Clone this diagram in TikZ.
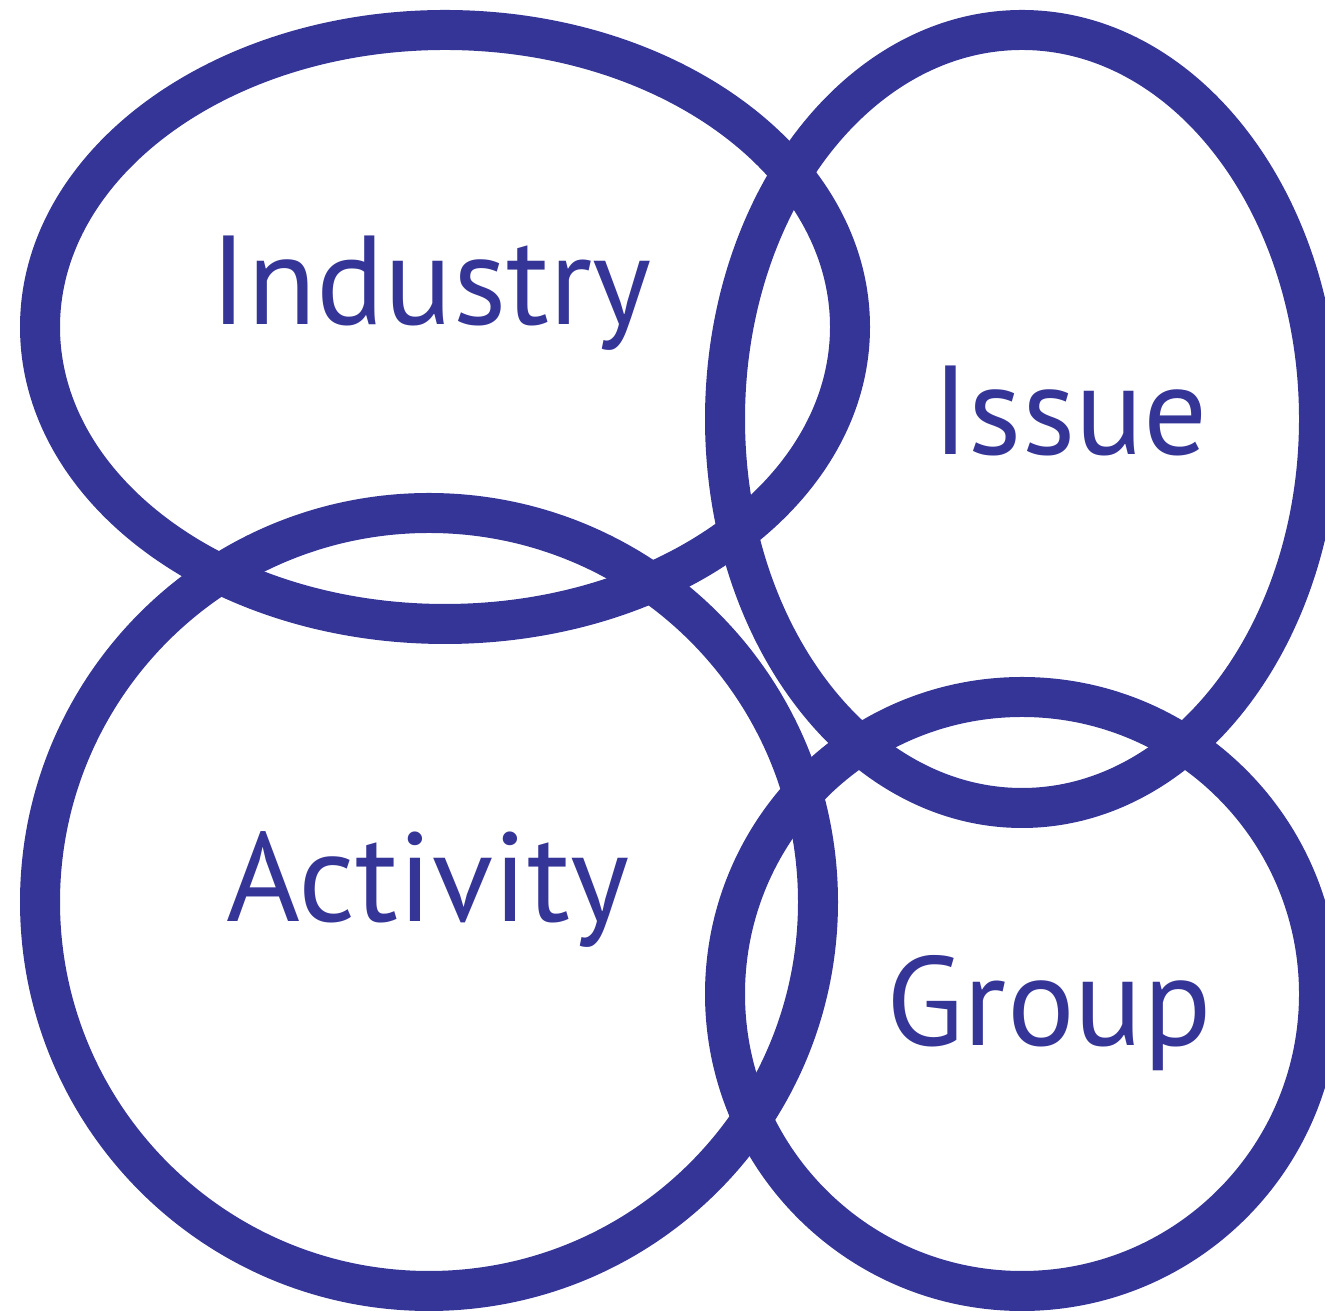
\documentclass[tikz,border=0pt]{standalone}
\usepackage{fontspec}
\setmainfont{PT Sans}
\definecolor{venn}{RGB}{53,53,152}
\tikzstyle{ring}=[draw=venn,line width=0.4cm]
\tikzstyle{word}=[text=venn,anchor=base,inner sep=0pt,font=\fontsize{36}{40}\selectfont]

\begin{document}
\begin{tikzpicture}
                    \useasboundingbox (0,0) rectangle (13.25,13.11);
                    \clip (0,0) rectangle (13.25,13.11);

                    \draw [ring] (4.45,9.84) ellipse (4.05 and 2.97);
                    \draw [ring] (10.22,8.92) ellipse (2.97 and 3.89);
                    \draw [ring] (4.29,4.09) circle (3.89);
                    \draw [ring] (10.22,3.17) circle (2.97);

                    \node (industry) at (4.31, 9.86) [word] {Industry};
                    \node (issue) at (10.70, 8.56) [word] {Issue};
                    \node (activity) at (4.28, 3.89) [word] {Activity};
                    \node (group) at (10.49, 2.65) [word] {Group};
                \end{tikzpicture}
\end{document}
